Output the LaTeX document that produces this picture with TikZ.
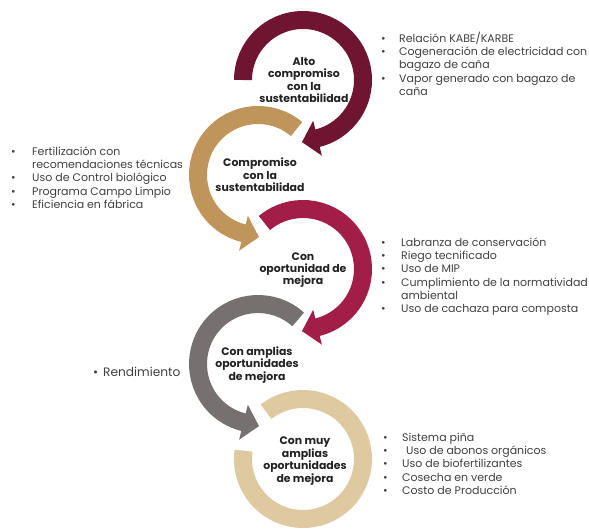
\documentclass[tikz,border=0pt]{standalone}
\usepackage{fontspec}
\setmainfont{Poppins}
\usetikzlibrary{calc}
\definecolor{cMaroon}{HTML}{6F1532}
\definecolor{cTan}{HTML}{BF955B}
\definecolor{cCrimson}{HTML}{A21E48}
\definecolor{cGray}{HTML}{767170}
\definecolor{cBeige}{HTML}{DFC9A1}
\definecolor{txtDark}{HTML}{222222}
\definecolor{txtGray}{HTML}{404040}
\newcommand\blt[1]{\makebox[#1][l]{\textbullet}}
\begin{document}
\begin{tikzpicture}[x=1pt,y=1pt,
  ring/.style={line width=18pt},
  lbl/.style={font=\bfseries\fontsize{10.9}{12.4}\selectfont, align=center, text=txtDark, inner sep=0pt},
  lst/.style={font=\fontsize{11}{13.3}\selectfont, align=left, anchor=north west, inner sep=0pt, text=txtGray}]
\useasboundingbox (0,0) rectangle (589,-529);
\coordinate (c1) at (303,-80);
\coordinate (c2) at (258,-175);
\coordinate (c3) at (303,-269);
\coordinate (c4) at (258,-364);
\coordinate (c5) at (303,-459);
% circle 5 (no head)
\draw[ring, cBeige] ($(c5)+(128:60)$) arc[start angle=128, end angle=-188, radius=60];
% circle 1
\draw[ring, cMaroon] ($(c1)+(180:60)$) arc[start angle=180, end angle=-77, radius=60];
\fill[cMaroon] ($(c1)+(-76:42)$) -- ($(c1)+(-76:78)$) -- ($(c1)+(-76:60)+(-166:16)$) -- cycle;
% circle 2
\draw[ring, cTan] ($(c2)+(50:60)$) arc[start angle=50, end angle=257, radius=60];
\fill[cTan] ($(c2)+(256:42)$) -- ($(c2)+(256:78)$) -- ($(c2)+(256:60)+(346:16)$) -- cycle;
% circle 3
\draw[ring, cCrimson] ($(c3)+(130:60)$) arc[start angle=130, end angle=-77, radius=60];
\fill[cCrimson] ($(c3)+(-76:42)$) -- ($(c3)+(-76:78)$) -- ($(c3)+(-76:60)+(-166:16)$) -- cycle;
% circle 4
\draw[ring, cGray] ($(c4)+(48:60)$) arc[start angle=48, end angle=257, radius=60];
\fill[cGray] ($(c4)+(256:42)$) -- ($(c4)+(256:78)$) -- ($(c4)+(256:60)+(346:16)$) -- cycle;
% centre labels
\node[lbl] (t1) at (304,-80) {Alto\\compromiso\\con la\\sustentabilidad};
\node[lbl] (t2) at (260,-175) {Compromiso\\con la\\sustentabilidad};
\node[lbl] (t3) at (303,-270) {Con\\oportunidad de\\mejora};
\node[lbl] (t4) at (257,-365) {Con amplias\\oportunidades\\de mejora};
\node[lbl] (t5) at (305,-461) {Con muy\\amplias\\oportunidades\\de mejora};
% lists
\node[lst] (l1) at (381,-31) {\rule{0pt}{11pt}\blt{18pt}Relación KABE/KARBE\\
\blt{18pt}Cogeneración de electricidad con\\
\hspace*{18pt}bagazo de caña\\
\blt{18pt}Vapor generado con bagazo de\\
\hspace*{18pt}caña};
\node[lst] (l2) at (11,-144) {\rule{0pt}{11pt}\blt{21pt}Fertilización con\\
\hspace*{21pt}recomendaciones técnicas\\
\blt{21pt}Uso de Control biológico\\
\blt{21pt}Programa Campo Limpio\\
\blt{21pt}Eficiencia en fábrica};
\node[lst] (l3) at (381,-235) {\rule{0pt}{11pt}\blt{20pt}Labranza de conservación\\
\blt{20pt}Riego tecnificado\\
\blt{20pt}Uso de MIP\\
\blt{20pt}Cumplimiento de la normatividad\\
\hspace*{20pt}ambiental\\
\blt{20pt}Uso de cachaza para composta};
\node[lst, font=\fontsize{12.2}{14}\selectfont] (l4) at (93,-364) {\rule{0pt}{12pt}\blt{10pt}Rendimiento};
\node[lst] (l5) at (383,-430) {\rule{0pt}{11pt}\blt{19pt}Sistema piña\\
\blt{19pt}\hspace*{4pt}Uso de abonos orgánicos\\
\blt{19pt}Uso de biofertilizantes\\
\blt{19pt}Cosecha en verde\\
\blt{19pt}Costo de Producción};
\end{tikzpicture}
\end{document}
